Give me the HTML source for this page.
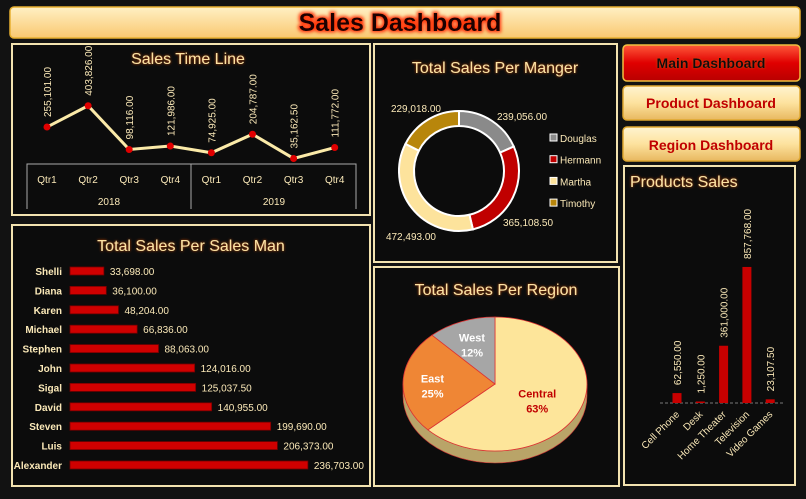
<!DOCTYPE html>
<html><head><meta charset="utf-8"><style>
html,body{margin:0;padding:0;background:#111;}
svg{display:block;font-family:"Liberation Sans",sans-serif;}
.pt{fill:#fde2a2;font-size:16px;text-anchor:middle;}
.lbl{fill:#fbe9b8;font-size:10px;}
.btn{cursor:pointer}
</style></head><body>
<svg id="s" width="806" height="499" viewBox="0 0 806 499" xmlns="http://www.w3.org/2000/svg">
<defs>
<linearGradient id="tg" x1="0" y1="0" x2="0" y2="1"><stop offset="0" stop-color="#fff0c4"/><stop offset="1" stop-color="#f9c870"/></linearGradient>
<linearGradient id="rg" x1="0" y1="0" x2="0" y2="1"><stop offset="0" stop-color="#ff5a3a"/><stop offset=".5" stop-color="#e00000"/><stop offset="1" stop-color="#b80000"/></linearGradient>
<linearGradient id="yg" x1="0" y1="0" x2="0" y2="1"><stop offset="0" stop-color="#fff4d0"/><stop offset=".5" stop-color="#fde29e"/><stop offset="1" stop-color="#e8b860"/></linearGradient>
<filter id="glow"><feMorphology operator="dilate" radius="1.5" in="SourceAlpha" result="d"/><feGaussianBlur in="d" stdDeviation="1.5" result="b"/><feFlood flood-color="#ff3a10"/><feComposite in2="b" operator="in" result="g"/><feMerge><feMergeNode in="g"/><feMergeNode in="SourceGraphic"/></feMerge></filter>
<filter id="sg"><feGaussianBlur in="SourceAlpha" stdDeviation="1.2" result="b"/><feFlood flood-color="#c84a10"/><feComposite in2="b" operator="in" result="g"/><feMerge><feMergeNode in="g"/><feMergeNode in="SourceGraphic"/></feMerge></filter>
</defs>
<rect width="806" height="499" fill="#121212"/>
<rect x="10" y="7" width="790" height="31" rx="4" fill="url(#tg)" stroke="#e8b030" stroke-width="1.5"/>
<text x="400" y="31" text-anchor="middle" font-size="25" font-weight="bold" fill="#1a0000" filter="url(#glow)">Sales Dashboard</text>

<rect x="12" y="44" width="358" height="171" fill="#0c0c0c" stroke="#f3e3b0" stroke-width="2"/>
<rect x="12" y="225" width="358" height="261" fill="#0c0c0c" stroke="#f3e3b0" stroke-width="2"/>
<rect x="374" y="44" width="243" height="218" fill="#0c0c0c" stroke="#f3e3b0" stroke-width="2"/>
<rect x="374" y="267" width="245" height="219" fill="#0c0c0c" stroke="#f3e3b0" stroke-width="2"/>
<rect x="624" y="166" width="171" height="319" fill="#0c0c0c" stroke="#f3e3b0" stroke-width="2"/>

<g class="btn"><rect x="623" y="45" width="177" height="36" rx="4" fill="url(#rg)" stroke="#f0c040" stroke-width="1.5"/><text x="711" y="68" text-anchor="middle" font-size="14" font-weight="bold" fill="#111" filter="url(#sg)">Main Dashboard</text></g>
<g class="btn"><rect x="623" y="86" width="177" height="34" rx="4" fill="url(#yg)" stroke="#e0a830" stroke-width="1.5"/><text x="711" y="108" text-anchor="middle" font-size="14" font-weight="bold" fill="#c00000">Product Dashboard</text></g>
<g class="btn"><rect x="623" y="127" width="177" height="34" rx="4" fill="url(#yg)" stroke="#e0a830" stroke-width="1.5"/><text x="711" y="150" text-anchor="middle" font-size="14" font-weight="bold" fill="#c00000">Region Dashboard</text></g>

<text class="pt" x="188" y="64" filter="url(#sg)">Sales Time Line</text>
<text class="pt" x="495" y="73" filter="url(#sg)">Total Sales Per Manger</text>
<text class="pt" x="191" y="251" filter="url(#sg)">Total Sales Per Sales Man</text>
<text class="pt" x="496" y="295" filter="url(#sg)">Total Sales Per Region</text>
<text class="pt" x="630" y="187" style="text-anchor:start" filter="url(#sg)">Products  Sales</text>

<g id="tl"></g><g id="sm"></g><g id="mg"></g><g id="rgn"></g><g id="pr"></g>
</svg>
<script>
const NS="http://www.w3.org/2000/svg";
function mk(t,a,p,txt){const e=document.createElementNS(NS,t);for(const k in a)e.setAttribute(k,a[k]);if(txt!=null)e.textContent=txt;p.appendChild(e);return e;}
function fmt(v){return v.toLocaleString('en-US',{minimumFractionDigits:2,maximumFractionDigits:2});}

const tlQuarters=["Qtr1","Qtr2","Qtr3","Qtr4","Qtr1","Qtr2","Qtr3","Qtr4"];
const tlYears=["2018","2019"];
const tlValues=[255101,403826,98116,121986,74925,204787,35162.5,111772];
const smNames=["Shelli","Diana","Karen","Michael","Stephen","John","Sigal","David","Steven","Luis","Alexander"];
const smValues=[33698,36100,48204,66836,88063,124016,125037.5,140955,199690,206373,236703];
const mgNames=["Douglas","Hermann","Martha","Timothy"];
const mgValues=[239056,365108.5,472493,229018];
const rgNames=["Central","East","West"];
const rgValues=[63,25,12];
const prNames=["Cell Phone","Desk","Home Theater","Television","Video Games"];
const prValues=[62550,1250,361000,857768,23107.5];

(function(){
const g=document.getElementById('tl');
const xA=i=>47+i*41.1, yA=v=>163.5-v*1.43e-4;
const pts=tlValues.map((v,i)=>xA(i)+","+yA(v)).join(" ");
const ln=mk('polyline',{points:pts,fill:"none",stroke:"#fbeaa8","stroke-width":3},g);


tlValues.forEach((v,i)=>{
 const c=mk('circle',{cx:xA(i),cy:yA(v),r:3.5,fill:"#e00000"},g);
 
 
 const t=mk('text',{x:xA(i)+4,y:yA(v)-10,class:"lbl","font-size":"10.5",transform:`rotate(-90 ${xA(i)+4} ${yA(v)-10})`},g,fmt(v));
 
 
 const q=mk('text',{x:xA(i),y:183,class:"lbl","font-size":"10.5","text-anchor":"middle"},g,tlQuarters[i]);
 
 
});
mk('path',{d:"M27 209V164H356V209M191 164V209",fill:"none",stroke:"#aaa","stroke-width":1},g);
tlYears.forEach((y,i)=>{
 const t=mk('text',{x:109+i*165,y:205,class:"lbl","text-anchor":"middle"},g,y);
 
 
});
})();

(function(){
const g=document.getElementById('sm');
const x0=70, sx=v=>v*0.001005, yR=i=>271+i*19.4;
smNames.forEach((n,i)=>{
 const y=yR(i);
 const t=mk('text',{x:62,y:y+4,class:"lbl","font-weight":"bold","text-anchor":"end"},g,n);
 
 
 const r=mk('rect',{x:x0,y:y-4,width:sx(smValues[i]),height:8,fill:"#d00000",stroke:"#700","stroke-width":0.8},g);
 
 
 const v=mk('text',{x:x0+sx(smValues[i])+6,y:y+4,class:"lbl"},g,fmt(smValues[i]));
 
 
});
})();

(function(){
const g=document.getElementById('mg');
const cx=459,cy=171,R=60,r=45;
const cols=["#8a8a8a","#c00000","#fde39c","#b8860b"];
const tot=mgValues.reduce((a,b)=>a+b,0);
let a=0;
const lblPos=[[497,120,"start"],[503,226,"start"],[436,240,"end"],[441,112,"end"]];
mgValues.forEach((v,i)=>{
 const a1=a+v/tot*2*Math.PI;
 const p=(rad,an)=>[cx+rad*Math.sin(an),cy-rad*Math.cos(an)];
 const [x1,y1]=p(R,a),[x2,y2]=p(R,a1),[x3,y3]=p(r,a1),[x4,y4]=p(r,a);
 const lg=(a1-a)>Math.PI?1:0;
 const s=mk('path',{d:`M${x1} ${y1}A${R} ${R} 0 ${lg} 1 ${x2} ${y2}L${x3} ${y3}A${r} ${r} 0 ${lg} 0 ${x4} ${y4}Z`,fill:cols[i],stroke:"#fff","stroke-width":2},g);
 
 
 const t=mk('text',{x:lblPos[i][0],y:lblPos[i][1],class:"lbl","text-anchor":lblPos[i][2]},g,fmt(v));
 
 
 a=a1;
 const ly2=138+i*21.7;
 const lr=mk('rect',{x:550,y:ly2-4,width:7,height:7,fill:cols[i],stroke:"#fff","stroke-width":1},g);
 
 
 const lt=mk('text',{x:560,y:ly2+4,class:"lbl"},g,mgNames[i]);
 
 
});
})();

(function(){
const g=document.getElementById('rgn');
const cx=495,cy=384,rx=92,ry=67,d=12;
const cols=["#fde59a","#ef8635","#a6a6a6"];
const tcols=["#c00000","#fff","#fff"];
const tot=rgValues.reduce((a,b)=>a+b,0);
mk('path',{d:`M${cx-rx} ${cy}A${rx} ${ry} 0 0 0 ${cx+rx} ${cy}V${cy+d}A${rx} ${ry} 0 0 1 ${cx-rx} ${cy+d}Z`,fill:"#b9a468",stroke:"#c33","stroke-width":0.6},g);
let a=0;
rgValues.forEach((v,i)=>{
 const a1=a+v/tot*2*Math.PI;
 const p=an=>[cx+rx*Math.sin(an),cy-ry*Math.cos(an)];
 const [x1,y1]=p(a),[x2,y2]=p(a1);
 const lg=(a1-a)>Math.PI?1:0;
 const s=mk('path',{d:`M${cx} ${cy}L${x1} ${y1}A${rx} ${ry} 0 ${lg} 1 ${x2} ${y2}Z`,fill:cols[i],stroke:"#d33","stroke-width":0.8},g);
 
 
 const mid=(a+a1)/2, f=i==0?0.5:0.68;
 const lx=cx+rx*f*Math.sin(mid), ly=cy-ry*f*Math.cos(mid);
 const t=mk('text',{x:lx,y:ly,"font-size":11,"font-weight":"bold",fill:tcols[i],"text-anchor":"middle"},g);
 
 
 mk('tspan',{x:lx,dy:0},t,rgNames[i]);
 mk('tspan',{x:lx,dy:15},t,v+"%");
 a=a1;
});
})();

(function(){
const g=document.getElementById('pr');
const base=403, sy=v=>v*1.586e-4, xA=i=>677+i*23.3;
mk('line',{x1:660,y1:base,x2:785,y2:base,stroke:"#777","stroke-dasharray":"3 2"},g);
prValues.forEach((v,i)=>{
 const h=Math.max(sy(v),1.5), x=xA(i);
 const r=mk('rect',{x:x-4.5,y:base-h,width:9,height:h,fill:"#c80000"},g);
 
 
 const t=mk('text',{x:x+4,y:base-h-8,class:"lbl",transform:`rotate(-90 ${x+4} ${base-h-8})`},g,fmt(v));
 
 
 const c=mk('text',{x:x+3,y:base+12,class:"lbl","text-anchor":"end",transform:`rotate(-45 ${x+3} ${base+12})`},g,prNames[i]);
 
 
});
})();
</script>
</body></html>
